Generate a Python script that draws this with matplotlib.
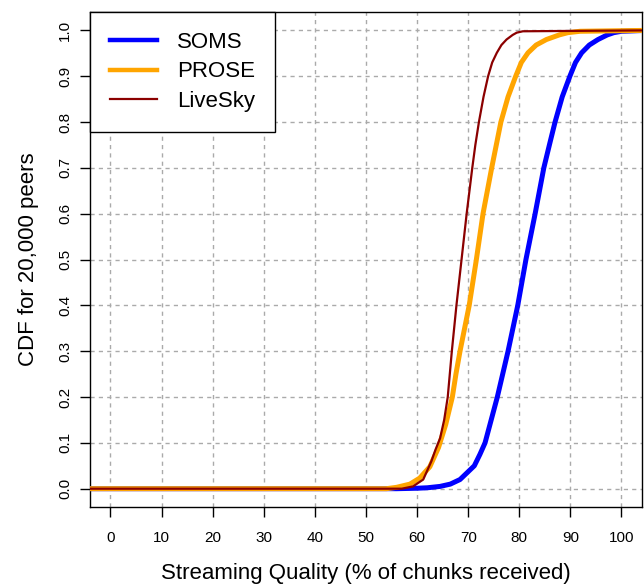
import numpy as np
import matplotlib
matplotlib.use("Agg")
import matplotlib.pyplot as plt

plt.rcParams['font.family'] = ['Liberation Sans', 'DejaVu Sans']

# CDF of streaming quality for the three systems
soms_x = [-5, 56, 60, 62, 64.5, 66.5, 68.4, 71.2, 72.3, 73.3, 74.5, 75.7,
          77.8, 79.7, 81.3, 83.1, 84.8, 86.0, 87.0, 88.4, 89.9, 91.0, 92.2,
          93.7, 95.4, 97.2, 98.5, 100, 105]
soms_y = [0, 0, 0.001, 0.002, 0.005, 0.01, 0.02, 0.05, 0.075, 0.1, 0.15, 0.2,
          0.3, 0.4, 0.5, 0.6, 0.7, 0.755, 0.8, 0.855, 0.9, 0.93, 0.951,
          0.968, 0.98, 0.99, 0.995, 0.998, 1.0]

prose_x = [-5, 54, 56, 58.6, 60.5, 62.5, 64.2, 65.6, 66.9, 67.6, 68.4, 70.2,
           71.6, 72.9, 74.6, 75.5, 76.4, 77.8, 79.3, 80.4, 81.7, 83.3, 85.3,
           87.8, 89.5, 91.9, 105]
prose_y = [0, 0, 0.003, 0.01, 0.023, 0.048, 0.09, 0.14, 0.2, 0.25, 0.3, 0.4,
           0.5, 0.6, 0.7, 0.75, 0.8, 0.855, 0.9, 0.93, 0.951, 0.968, 0.98,
           0.99, 0.995, 0.998, 1.0]

livesky_x = [-5, 57, 59.2, 61.2, 62.8, 63.6, 64.5, 65.3, 66.0, 66.8, 67.7,
             68.7, 69.7, 70.8, 71.4, 72.1, 73.0, 73.9, 74.7, 75.6, 76.5,
             77.5, 78.7, 79.5, 80.7, 105]
livesky_y = [0, 0, 0.005, 0.02, 0.06, 0.085, 0.11, 0.15, 0.2, 0.3, 0.4,
             0.5, 0.6, 0.7, 0.75, 0.8, 0.855, 0.9, 0.93, 0.951, 0.968,
             0.98, 0.99, 0.995, 0.998, 1.0]

xticks = np.arange(0, 101, 10)
yticks = np.round(np.arange(0, 1.01, 0.1), 1)

fig = plt.figure(figsize=(6.44, 5.84), dpi=100)
ax = fig.add_axes([0.1398, 0.1318, 0.857, 0.8476])

ax.plot(soms_x, soms_y, color='#0000FF', lw=3.6, label='SOMS', zorder=3)
ax.plot(prose_x, prose_y, color='#FFA500', lw=3.6, label='PROSE', zorder=4)
ax.plot(livesky_x, livesky_y, color='#8B0000', lw=1.6, label='LiveSky', zorder=5)

ax.set_xlim(-4, 104)
ax.set_ylim(-0.04, 1.04)
ax.set_xticks(xticks)
ax.set_yticks(yticks)
ax.set_xticklabels([str(v) for v in xticks], fontsize=11)
ax.set_yticklabels(['%.1f' % v for v in yticks], fontsize=11,
                   rotation=90, va='center')

ax.grid(True, color='#aaaaaa', lw=1, dashes=(3, 3))
ax.set_axisbelow(True)

ax.tick_params(axis='x', direction='out', length=7, width=1, pad=10)
ax.tick_params(axis='y', direction='out', length=7, width=1, pad=6)
for s in ax.spines.values():
    s.set_linewidth(1)
    s.set_color('black')

ax.set_xlabel('Streaming Quality (% of chunks received)', fontsize=16,
              labelpad=13)
ax.set_ylabel('CDF for 20,000 peers', fontsize=16, labelpad=14)

leg = ax.legend(loc='upper left', bbox_to_anchor=(0, 1), borderaxespad=0,
                fontsize=16, fancybox=False, framealpha=1, edgecolor='black',
                handlelength=2.1, handletextpad=0.9, labelspacing=0.38,
                borderpad=0.9)
leg.get_frame().set_linewidth(1)
leg.set_zorder(10)
leg.legend_handles[0].set_linewidth(3.2)
leg.legend_handles[1].set_linewidth(3.2)
leg.legend_handles[2].set_linewidth(1.6)

fig.savefig('out.png', dpi=100)
